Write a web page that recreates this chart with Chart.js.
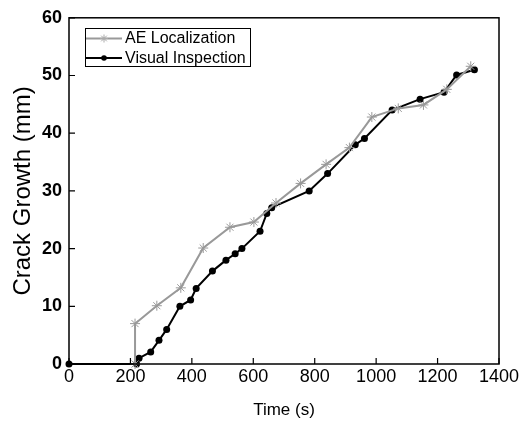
<!DOCTYPE html>
<html>
<head>
<meta charset="utf-8">
<script src="https://cdn.jsdelivr.net/npm/chart.js@4.4.1/dist/chart.umd.min.js"></script>
<style>
  html, body { margin: 0; padding: 0; background: #ffffff; }
  #wrap { width: 522px; height: 426px; }
</style>
</head>
<body>
<div id="wrap"><canvas id="crackChart" width="522" height="426"></canvas></div>
<script>
// AE localization results (time s, crack growth mm)
const aeTime = [215, 215, 286, 364, 437, 524, 602, 674, 754, 837, 913, 986, 1072, 1154, 1230, 1308];
const aeCrack = [0, 7.0, 10.1, 13.2, 20.1, 23.7, 24.6, 27.9, 31.3, 34.6, 37.5, 42.8, 44.3, 44.9, 47.6, 51.6];

// visual inspection results
const visTime = [0, 220, 228, 266, 293, 318, 361, 396, 414, 467, 511, 541, 563, 622, 644, 660, 782, 842, 932, 962, 1052, 1143, 1221, 1262, 1320];
const visCrack = [0, 0, 1.0, 2.1, 4.1, 6.0, 10.0, 11.1, 13.1, 16.1, 18.0, 19.1, 20.0, 23.0, 26.1, 27.1, 30.0, 33.0, 38.0, 39.1, 44.0, 45.9, 47.1, 50.1, 51.0];

const xTicks = [0, 200, 400, 600, 800, 1000, 1200, 1400];
const yTicks = [0, 10, 20, 30, 40, 50, 60];

const seriesNames = ["AE Localization", "Visual Inspection"];

const fontFam = "'Liberation Sans', Arial, sans-serif";

function toPoints(xs, ys) {
    let pts = [];
    for (let i = 0; i < xs.length; i++) {
        pts.push({x: xs[i], y: ys[i]});
    }
    return pts;
}

// frame around plot area + inward tick marks
const framePlugin = {
    id: "frame",
    afterDraw: function (chart) {
        const ctx = chart.ctx;
        const a = chart.chartArea;
        const xs = chart.scales.x;
        const ys = chart.scales.y;
        ctx.save();
        ctx.strokeStyle = "#000000";
        ctx.lineWidth = 1.5;
        ctx.strokeRect(a.left, a.top, a.right - a.left, a.bottom - a.top);
        ctx.lineWidth = 1.2;
        ctx.beginPath();
        xTicks.forEach(function (v) {
            let px = xs.getPixelForValue(v);
            ctx.moveTo(px, a.bottom);
            ctx.lineTo(px, a.bottom - 6);
        });
        yTicks.forEach(function (v) {
            let py = ys.getPixelForValue(v);
            ctx.moveTo(a.left, py);
            ctx.lineTo(a.left + 6, py);
        });
        ctx.stroke();
        ctx.restore();
    }
};

// legend box drawn inside the plot, top-left
const legendPlugin = {
    id: "insideLegend",
    afterDraw: function (chart) {
        const ctx = chart.ctx;
        ctx.save();
        ctx.strokeStyle = "#000000";
        ctx.lineWidth = 1;
        ctx.strokeRect(85.5, 28.5, 165, 38);

        ctx.font = "16px " + fontFam;
        ctx.textBaseline = "middle";
        ctx.textAlign = "left";

        // AE entry
        ctx.strokeStyle = "#999999";
        ctx.lineWidth = 2;
        ctx.beginPath();
        ctx.moveTo(86, 38.5);
        ctx.lineTo(122, 38.5);
        ctx.stroke();
        ctx.lineWidth = 1;
        ctx.strokeStyle = "#aaaaaa";
        ctx.beginPath();
        for (let k = 0; k < 4; k++) {
            let ang = k * Math.PI / 4;
            ctx.moveTo(104 - 4 * Math.cos(ang), 38.5 - 4 * Math.sin(ang));
            ctx.lineTo(104 + 4 * Math.cos(ang), 38.5 + 4 * Math.sin(ang));
        }
        ctx.stroke();
        ctx.fillStyle = "#000000";
        ctx.fillText(seriesNames[0], 125, 39);

        // visual entry
        ctx.strokeStyle = "#000000";
        ctx.lineWidth = 2;
        ctx.beginPath();
        ctx.moveTo(85, 58);
        ctx.lineTo(122, 58);
        ctx.stroke();
        ctx.beginPath();
        ctx.arc(104, 58, 2.8, 0, Math.PI * 2);
        ctx.fill();
        ctx.fillText(seriesNames[1], 125, 58.5);
        ctx.restore();
    }
};

new Chart(document.getElementById("crackChart").getContext("2d"), {
    type: "line",
    data: {
        datasets: [
            {
                label: seriesNames[0],
                data: toPoints(aeTime, aeCrack),
                borderColor: "#999999",
                borderWidth: 2,
                pointStyle: "star",
                pointRadius: 5,
                pointBorderWidth: 1,
                pointBorderColor: "#999999",
                pointBackgroundColor: "#999999",
                tension: 0,
                fill: false
            },
            {
                label: seriesNames[1],
                data: toPoints(visTime, visCrack),
                borderColor: "#000000",
                borderWidth: 2,
                pointStyle: "circle",
                pointRadius: 3.5,
                pointBorderWidth: 0,
                pointBackgroundColor: "#000000",
                tension: 0,
                fill: false
            }
        ]
    },
    options: {
        responsive: false,
        animation: false,
        clip: false,
        layout: {padding: {left: 0, right: 23, top: 16, bottom: 0}},
        plugins: {
            legend: {display: false},
            tooltip: {enabled: false}
        },
        scales: {
            x: {
                type: "linear",
                min: 0,
                max: 1400,
                afterBuildTicks: function (scale) {
                    scale.ticks = xTicks.map(function (v) { return {value: v}; });
                },
                afterFit: function (scale) { scale.height = 62; },
                grid: {display: false, drawTicks: false},
                border: {display: false},
                ticks: {
                    color: "#000000",
                    padding: 2,
                    maxRotation: 0,
                    callback: function (v) { return String(v); },
                    font: {family: fontFam, size: 18}
                },
                title: {
                    display: true,
                    text: "Time (s)",
                    color: "#000000",
                    padding: {top: 0, bottom: 5},
                    font: {family: fontFam, size: 17}
                }
            },
            y: {
                type: "linear",
                min: 0,
                max: 60,
                afterBuildTicks: function (scale) {
                    scale.ticks = yTicks.map(function (v) { return {value: v}; });
                },
                afterFit: function (scale) { scale.width = 69; },
                grid: {display: false, drawTicks: false},
                border: {display: false},
                ticks: {
                    color: "#000000",
                    padding: 7,
                    callback: function (v) { return String(v); },
                    font: {family: fontFam, size: 18, weight: "bold"}
                },
                title: {
                    display: true,
                    text: "Crack Growth (mm)",
                    color: "#000000",
                    padding: {top: 9, bottom: 0},
                    font: {family: fontFam, size: 24}
                }
            }
        }
    },
    plugins: [framePlugin, legendPlugin]
});
</script>
</body>
</html>
